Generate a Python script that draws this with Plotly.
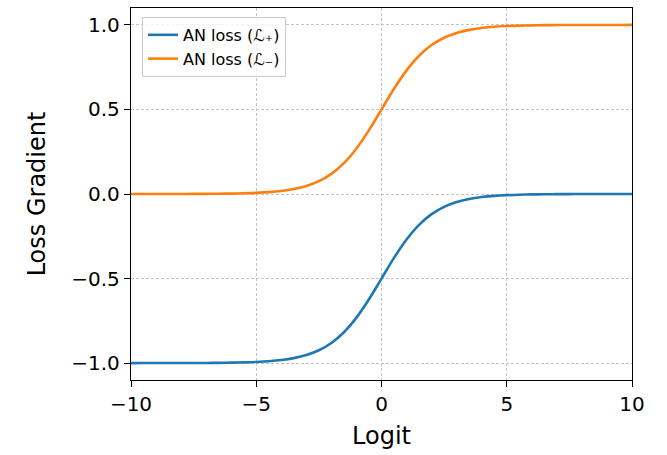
import plotly.graph_objects as go

logit = [-10, -9.5, -9, -8.5, -8, -7.5, -7, -6.5, -6, -5.5, -5, -4.5, -4, -3.5, -3,
         -2.5, -2, -1.5, -1, -0.5, 0, 0.5, 1, 1.5, 2, 2.5, 3, 3.5, 4, 4.5, 5,
         5.5, 6, 6.5, 7, 7.5, 8, 8.5, 9, 9.5, 10]

grad_neg = [0.0000, 0.0001, 0.0001, 0.0002, 0.0003, 0.0006, 0.0009, 0.0015, 0.0025, 0.0041, 0.0067,
            0.0110, 0.0180, 0.0293, 0.0474, 0.0759, 0.1192, 0.1824, 0.2689, 0.3775, 0.5000,
            0.6225, 0.7311, 0.8176, 0.8808, 0.9241, 0.9526, 0.9707, 0.9820, 0.9890, 0.9933,
            0.9959, 0.9975, 0.9985, 0.9991, 0.9994, 0.9997, 0.9998, 0.9999, 0.9999, 1.0000]

grad_pos = [-1.0000, -0.9999, -0.9999, -0.9998, -0.9997, -0.9994, -0.9991, -0.9985, -0.9975, -0.9959, -0.9933,
            -0.9890, -0.9820, -0.9707, -0.9526, -0.9241, -0.8808, -0.8176, -0.7311, -0.6225, -0.5000,
            -0.3775, -0.2689, -0.1824, -0.1192, -0.0759, -0.0474, -0.0293, -0.0180, -0.0110, -0.0067,
            -0.0041, -0.0025, -0.0015, -0.0009, -0.0006, -0.0003, -0.0002, -0.0001, -0.0001, 0.0000]

x_ticks = [-10, -5, 0, 5, 10]
x_tick_labels = ["\u221210", "\u22125", "0", "5", "10"]
y_ticks = [-1.0, -0.5, 0.0, 0.5, 1.0]
y_tick_labels = ["\u22121.0", "\u22120.5", "0.0", "0.5", "1.0"]

name_pos = "AN loss (\u2112\u208A)"
name_neg = "AN loss (\u2112\u208B)"

fig = go.Figure()
fig.add_trace(go.Scatter(x=logit, y=grad_pos, mode="lines", name=name_pos,
                         line=dict(color="#1f77b4", width=2.6, shape="spline")))
fig.add_trace(go.Scatter(x=logit, y=grad_neg, mode="lines", name=name_neg,
                         line=dict(color="#ff7f0e", width=2.6, shape="spline")))

axis_common = dict(showline=True, linecolor="black", linewidth=1.3, mirror=True,
                   ticks="outside", ticklen=6, tickcolor="black", tickwidth=1.3,
                   showgrid=True, gridcolor="#c4c4c4", griddash="3px,2px", gridwidth=0.9,
                   zeroline=False, tickfont=dict(size=20, color="black"))

fig.update_layout(
    width=667, height=455,
    margin=dict(l=131, r=35, t=8, b=75),
    paper_bgcolor="white", plot_bgcolor="white",
    font=dict(family="DejaVu Sans", color="black"),
    xaxis=dict(range=[-10, 10], tickvals=x_ticks, ticktext=x_tick_labels,
               title=dict(text="Logit", font=dict(size=24), standoff=12), **axis_common),
    yaxis=dict(range=[-1.1, 1.1], tickvals=y_ticks, ticktext=y_tick_labels,
               title=dict(text="Loss Gradient", font=dict(size=24), standoff=18), **axis_common),
    legend=dict(x=0.022, y=0.976, xanchor="left", yanchor="top",
                bgcolor="rgba(255,255,255,0.8)", bordercolor="#cccccc", borderwidth=1,
                font=dict(size=16, color="black"), tracegroupgap=0),
    showlegend=True,
)

fig.write_html("out.html")
